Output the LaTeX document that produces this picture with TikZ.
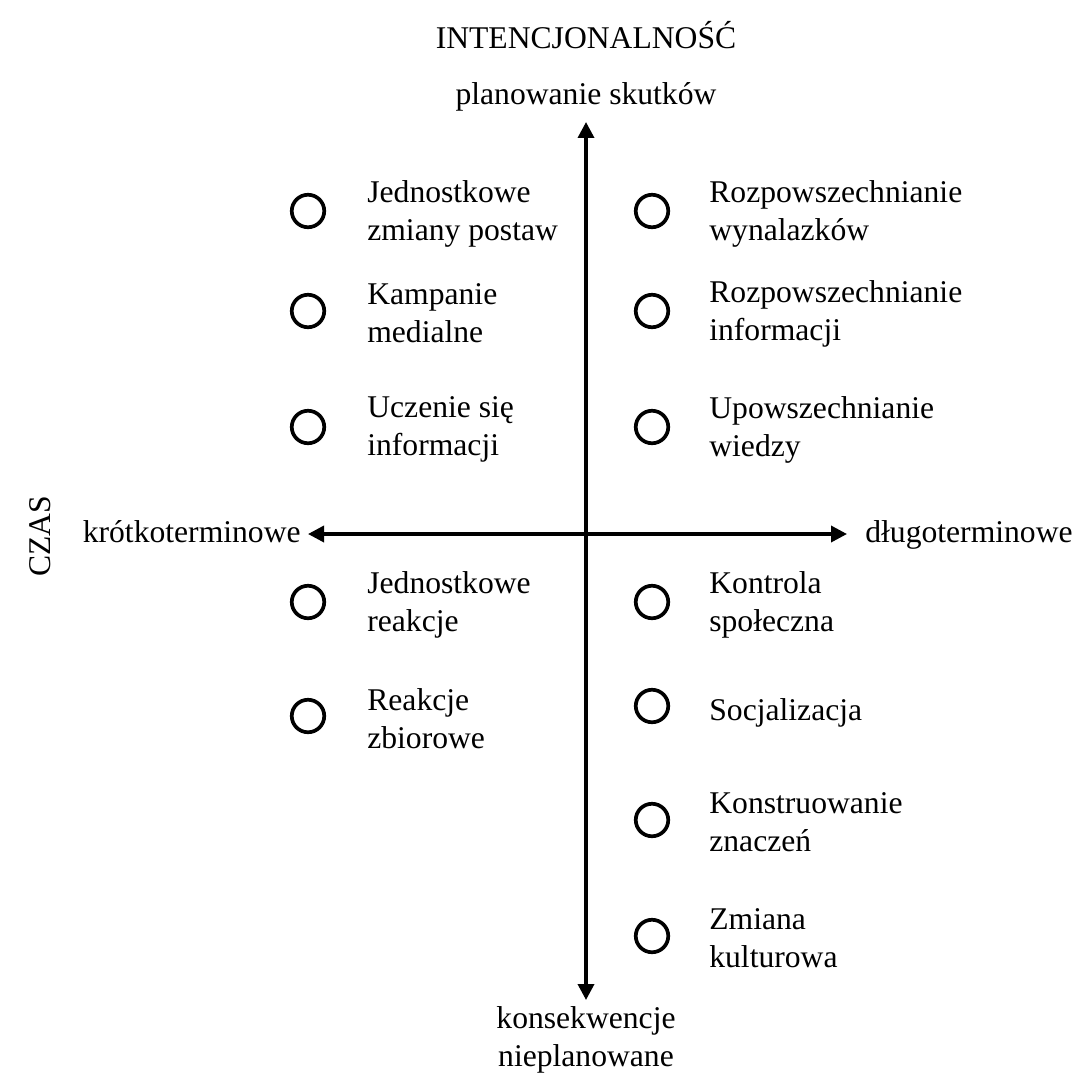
\documentclass[tikz,border=0pt]{standalone}
\usepackage{fontspec}
\setmainfont{Liberation Serif}
\usetikzlibrary{arrows.meta,positioning}

\begin{document}
\begin{tikzpicture}[
  x=0.02cm, y=-0.02cm,
  node distance=0.8cm,
  every node/.style={font=\fontsize{18}{21.6}\selectfont},
  dot/.style={circle, draw=black, line width=2.1pt, minimum size=0.65cm, inner sep=0pt},
  item/.style={align=left, anchor=west, inner sep=0pt, yshift=-0.05cm},
  axis/.style={{Triangle[length=0.32cm,width=0.32cm]}-{Triangle[length=0.32cm,width=0.32cm]}, line width=2pt}
]
\useasboundingbox (0,0) rectangle (1077,1075);

% axes
\coordinate (top) at (586,122);
\coordinate (bottom) at (586,1000);
\coordinate (left) at (308,534);
\coordinate (right) at (847,534);
\draw[axis] (left) -- (right);
\draw[axis] (top) -- (bottom);

\node (intenc) at (586,35) {INTENCJONALNOŚĆ};
\node (plan) at (586,97) {planowanie skutków};
\node[align=center] (nieplan) at (586,1040) {konsekwencje\\nieplanowane};
\node[anchor=base east, inner sep=0pt] (krotko) at (301,542) {krótkoterminowe};
\node[anchor=base west, inner sep=0pt] (dlugo) at (865,542) {długoterminowe};
\node[rotate=90] (czas) at (40,536) {CZAS};

% left column
\node[dot] (l1) at (308,211) {};
\node[dot] (l2) at (308,311) {};
\node[dot] (l3) at (308,427) {};
\node[dot] (l4) at (308,602) {};
\node[dot] (l5) at (308,716) {};
\node[item, right=1.18cm of l1.center] (t1) {Jednostkowe\\zmiany postaw};
\node[item, right=1.18cm of l2.center] (t2) {Kampanie\\medialne};
\node[item, right=1.18cm of l3.center] (t3) {Uczenie się\\informacji};
\node[item, right=1.18cm of l4.center] (t4) {Jednostkowe\\reakcje};
\node[item, right=1.18cm of l5.center] (t5) {Reakcje\\zbiorowe};

% right column
\node[dot] (r1) at (652,211) {};
\node[dot] (r2) at (652,311) {};
\node[dot] (r3) at (652,427) {};
\node[dot] (r4) at (652,602) {};
\node[dot] (r5) at (652,706) {};
\node[dot] (r6) at (652,820) {};
\node[dot] (r7) at (652,936) {};
\node[item, right=1.14cm of r1.center] (s1) {Rozpowszechnianie\\wynalazków};
\node[item, right=1.14cm of r2.center] (s2) {Rozpowszechnianie\\informacji};
\node[item, right=1.14cm of r3.center] (s3) {Upowszechnianie\\wiedzy};
\node[item, right=1.14cm of r4.center] (s4) {Kontrola\\społeczna};
\node[item, right=1.14cm of r5.center, yshift=-0.08cm] (s5) {Socjalizacja};
\node[item, right=1.14cm of r6.center] (s6) {Konstruowanie\\znaczeń};
\node[item, right=1.14cm of r7.center] (s7) {Zmiana\\kulturowa};

\end{tikzpicture}
\end{document}
